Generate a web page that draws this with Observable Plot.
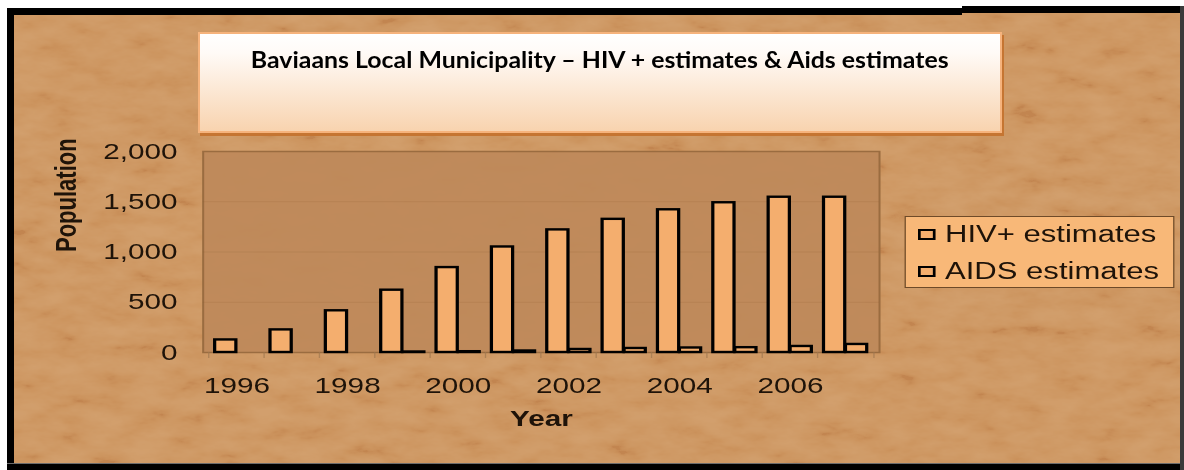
<!DOCTYPE html>
<html>
<head>
<meta charset="utf-8">
<script src="https://cdn.jsdelivr.net/npm/d3@7"></script>
<script src="https://cdn.jsdelivr.net/npm/@observablehq/plot@0.6"></script>
<style>
  html, body { margin: 0; padding: 0; background: #fff; }
  #page { position: relative; width: 1184px; height: 470px; overflow: hidden; background: #fff; }
  #board { position: absolute; left: 7px; top: 8px; width: 1177px; height: 462px; background: #CC945E; overflow: hidden; }
  #texture { position: absolute; left: 0; top: 0; mix-blend-mode: soft-light; opacity: 0.24; }
  .edge { position: absolute; background: #000; }
  #stretch { position: absolute; left: 0; top: 0; width: 877px; height: 470px; transform: scaleX(1.35); transform-origin: 0 0; }
  #chart svg { display: block; }
  #legend { position: absolute; left: 670px; top: 216px; width: 200px; height: 72px; box-sizing: border-box;
            background: #F8B878; border: 1px solid #6e4a28; font-family: "Liberation Sans", Arial, sans-serif;
            font-size: 23px; color: #1e1309; }
  .item { position: absolute; left: 9px; height: 26px; line-height: 26px; white-space: nowrap; }
  .swatch { display: inline-block; width: 9px; height: 7px; border: 2px solid #000; background: #F4AE6E;
            vertical-align: middle; margin-right: 7px; position: relative; top: -1px; }
  #titlebox { position: absolute; left: 198px; top: 32px; width: 804px; height: 101px; box-sizing: border-box;
              border: 2px solid #F6B37C; background: linear-gradient(#ffffff 0%, #fffaf6 20%, #F8D3AF 100%);
              box-shadow: 2px 3px 0 #C57532; text-align: center;
              font-family: Lato, "Open Sans", sans-serif; font-weight: 700; font-size: 22px; color: #000;
              padding-top: 15px; line-height: 22px; }
  #titlebox span { display: inline-block; transform: scaleX(1.13); transform-origin: 50% 50%; white-space: nowrap; }
</style>
</head>
<body>
<div id="page">
  <div id="board">
    <svg id="texture" width="1177" height="462">
      <filter id="grain" x="0" y="0" width="100%" height="100%">
        <feTurbulence type="fractalNoise" baseFrequency="0.025 0.06" numOctaves="4" seed="7"/>
        <feColorMatrix type="matrix" values="1.6 0 0 0 -0.3  1.6 0 0 0 -0.3  1.6 0 0 0 -0.3  0 0 0 0 1"/>
      </filter>
      <rect width="1177" height="462" filter="url(#grain)"/>
    </svg>
  </div>
  <!-- black picture frame -->
  <div class="edge" style="left:7px;top:8px;width:955px;height:7px;"></div>
  <div class="edge" style="left:962px;top:6px;width:222px;height:7px;"></div>
  <div class="edge" style="left:7px;top:8px;width:7px;height:462px;"></div>
  <div class="edge" style="left:7px;top:464px;width:1177px;height:6px;"></div>
  <div class="edge" style="left:7px;top:463px;width:1177px;height:1px;background:#6b6b6b;"></div>
  <div class="edge" style="left:1180px;top:6px;width:4px;height:464px;background:#3a3a3a;"></div>

  <div id="stretch">
    <div id="chart"></div>
    <div id="legend"></div>
  </div>
  <div id="titlebox"><span>Baviaans Local Municipality – HIV + estimates &amp; Aids estimates</span></div>
</div>

<script>
// Yearly population estimates for Baviaans Local Municipality
const years = [1996, 1997, 1998, 1999, 2000, 2001, 2002, 2003, 2004, 2005, 2006, 2007];
const hivEstimates = [125, 225, 415, 620, 845, 1050, 1220, 1325, 1420, 1490, 1545, 1545];
const aidsEstimates = [0, 0, 0, 5, 8, 15, 30, 40, 45, 48, 60, 80];
const seriesNames = ["HIV+ estimates", "AIDS estimates"];
const yTicks = [0, 500, 1000, 1500, 2000];
const yearLabels = [1996, 1998, 2000, 2002, 2004, 2006];

const barFill = "#F4AE6E";
const textColor = "#1e1309";
const font = "'Liberation Sans', Arial, sans-serif";

const hivRows = years.map((year, i) => ({year, series: seriesNames[0], value: hivEstimates[i]}));
const aidsRows = years.map((year, i) => ({year, series: seriesNames[1], value: aidsEstimates[i]}))
  .filter(d => d.value > 0);

const W = 877, H = 470;
const margin = {left: 150, right: 226, top: 151, bottom: 118};
const paddingInner = 0.22, paddingOuter = 0.11;
const step = (W - margin.left - margin.right) / (years.length - paddingInner + 2 * paddingOuter);
const halfBand = step * (1 - paddingInner) / 2;
const boundaryTick = {tickSize: 6, tickFormat: () => "", stroke: "#a07850", strokeOpacity: 0.7, label: null};

const chart = Plot.plot({
  width: W,
  height: H,
  marginLeft: margin.left,
  marginRight: margin.right,
  marginTop: margin.top,
  marginBottom: margin.bottom,
  style: {background: "transparent", fontFamily: font, color: textColor, overflow: "visible"},
  x: {type: "band", domain: years, paddingInner, paddingOuter, axis: null, label: null},
  y: {domain: [0, 2000], axis: null, label: null},
  marks: [
    Plot.frame({fill: "#BE895A", fillOpacity: 0.94, stroke: "#9a6c40", strokeWidth: 1.5}),
    Plot.gridY([500, 1000, 1500], {stroke: "#8a5c32", strokeOpacity: 0.18, strokeWidth: 1}),
    // category boundary ticks under the axis
    Plot.axisX(years, {...boundaryTick, dx: -step / 2}),
    Plot.axisX([years[years.length - 1]], {...boundaryTick, dx: step / 2}),
    Plot.axisX(yearLabels, {tickSize: 0, tickPadding: 25, fontSize: 22, fill: textColor, tickFormat: d => String(d), label: null}),
    Plot.axisY(yTicks, {tickSize: 0, tickPadding: 19, fontSize: 22, fill: textColor, tickFormat: d3.format(","), label: null}),
    Plot.barY(hivRows, {x: "year", y: "value", fill: barFill, stroke: "#000", strokeWidth: 2.4, insetRight: halfBand}),
    Plot.barY(aidsRows, {x: "year", y: "value", fill: barFill, stroke: "#000", strokeWidth: 2.4, insetLeft: halfBand}),
    Plot.text(["Population"], {frameAnchor: "left", rotate: -90, dx: -101, fontSize: 22, fontWeight: "bold", fill: textColor}),
    Plot.text(["Year"], {frameAnchor: "bottom", dy: 73, fontSize: 22, fontWeight: "bold", fill: textColor})
  ]
});
document.getElementById("chart").appendChild(chart);

// legend built from the series names
const legend = document.getElementById("legend");
seriesNames.forEach((name, i) => {
  const item = document.createElement("div");
  item.className = "item";
  item.style.top = (4 + i * 37) + "px";
  const sw = document.createElement("span");
  sw.className = "swatch";
  item.appendChild(sw);
  item.appendChild(document.createTextNode(name));
  legend.appendChild(item);
});
</script>
</body>
</html>
